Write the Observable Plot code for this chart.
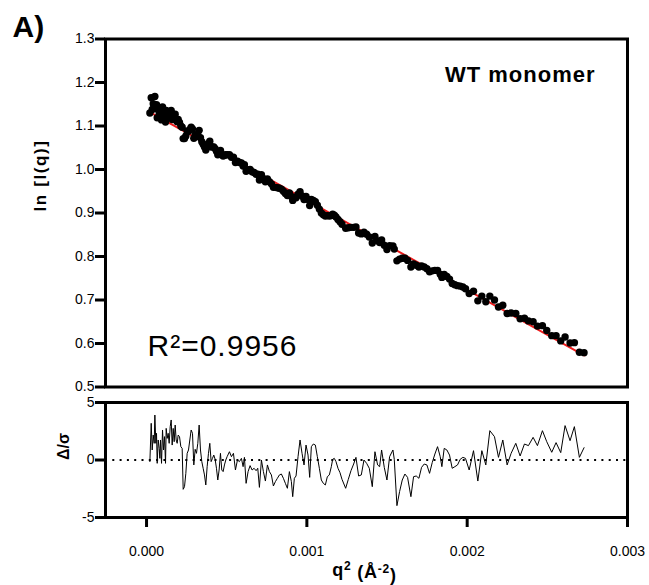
<!DOCTYPE html>
<html><head><meta charset="utf-8">
<script src="https://cdn.jsdelivr.net/npm/d3@7"></script>
<script src="https://cdn.jsdelivr.net/npm/@observablehq/plot@0.6"></script>
<style>
body{margin:0;background:#fff;}
#wrap{position:relative;width:649px;height:585px;background:#fff;}
#top,#bot{position:absolute;left:0;}
#top{top:0;} #bot{top:390px;}
</style></head><body>
<div id="wrap"><div id="top"></div><div id="bot"></div></div>
<script>
// q² values (Å⁻²)
const q2 = [
0.208e-4,0.291e-4,0.353e-4,0.416e-4,0.478e-4,0.519e-4,0.581e-4,0.623e-4,0.665e-4,0.727e-4,
0.789e-4,0.831e-4,0.872e-4,0.935e-4,0.997e-4,1.059e-4,1.121e-4,1.184e-4,1.225e-4,1.288e-4,
1.350e-4,1.412e-4,1.475e-4,1.537e-4,1.599e-4,1.662e-4,1.724e-4,1.786e-4,1.849e-4,1.911e-4,
1.973e-4,2.056e-4,2.139e-4,2.222e-4,2.285e-4,2.368e-4,2.451e-4,2.534e-4,2.617e-4,2.700e-4,
2.783e-4,2.866e-4,2.949e-4,3.032e-4,3.115e-4,3.198e-4,3.281e-4,3.364e-4,3.447e-4,3.531e-4,
3.614e-4,3.697e-4,3.780e-4,3.863e-4,3.946e-4,4.029e-4,4.112e-4,4.195e-4,4.278e-4,4.361e-4,
4.444e-4,4.527e-4,4.611e-4,4.694e-4,4.777e-4,4.860e-4,4.943e-4,5.026e-4,5.171e-4,5.296e-4,
5.421e-4,5.545e-4,5.670e-4,5.794e-4,5.919e-4,6.023e-4,6.106e-4,6.210e-4,6.334e-4,6.459e-4,
6.584e-4,6.708e-4,6.833e-4,6.937e-4,7.040e-4,7.165e-4,7.290e-4,7.414e-4,7.539e-4,7.664e-4,
7.788e-4,7.913e-4,8.037e-4,8.162e-4,8.287e-4,8.411e-4,8.536e-4,8.660e-4,8.785e-4,8.910e-4,
9.034e-4,9.117e-4,9.221e-4,9.325e-4,9.450e-4,9.574e-4,9.699e-4,9.824e-4,9.948e-4,10.073e-4,
10.176e-4,10.280e-4,10.405e-4,10.530e-4,10.654e-4,10.779e-4,10.903e-4,11.028e-4,11.153e-4,11.277e-4,
11.402e-4,11.526e-4,11.609e-4,11.713e-4,11.817e-4,11.942e-4,12.067e-4,12.191e-4,12.420e-4,12.586e-4,
12.752e-4,12.918e-4,13.063e-4,13.229e-4,13.396e-4,13.562e-4,13.728e-4,13.894e-4,14.081e-4,14.247e-4,
14.413e-4,14.538e-4,14.662e-4,14.829e-4,14.995e-4,15.161e-4,15.369e-4,15.452e-4,15.618e-4,15.784e-4,
15.950e-4,16.116e-4,16.282e-4,16.490e-4,16.656e-4,16.822e-4,16.989e-4,17.155e-4,17.321e-4,17.487e-4,
17.653e-4,17.819e-4,17.986e-4,18.152e-4,18.318e-4,18.422e-4,18.567e-4,18.733e-4,18.899e-4,19.065e-4,
19.232e-4,19.398e-4,19.564e-4,19.730e-4,19.896e-4,20.125e-4,20.395e-4,20.665e-4,20.914e-4,21.163e-4,
21.413e-4,21.703e-4,21.952e-4,22.222e-4,22.492e-4,22.741e-4,23.032e-4,23.302e-4,23.572e-4,23.821e-4,
24.112e-4,24.382e-4,24.694e-4,24.964e-4,25.275e-4,25.545e-4,25.836e-4,26.106e-4,26.417e-4,26.687e-4,
26.999e-4,27.290e-4
];
// ln I(q)
const lnI = [
1.130,1.165,1.138,1.151,1.142,1.168,1.140,1.149,1.119,1.140,
1.131,1.120,1.137,1.114,1.144,1.122,1.131,1.109,1.136,1.126,
1.129,1.120,1.132,1.136,1.115,1.126,1.115,1.127,1.114,1.110,
1.115,1.108,1.100,1.097,1.071,1.071,1.077,1.088,1.088,1.092,
1.097,1.093,1.072,1.080,1.076,1.080,1.090,1.073,1.064,1.058,
1.052,1.045,1.054,1.060,1.065,1.052,1.052,1.052,1.048,1.042,
1.034,1.037,1.044,1.034,1.031,1.033,1.034,1.034,1.034,1.028,
1.028,1.016,1.019,1.016,1.015,1.008,1.011,0.996,0.999,1.000,
0.995,0.993,0.989,0.989,0.976,0.988,0.979,0.972,0.978,0.972,
0.967,0.959,0.959,0.958,0.957,0.955,0.950,0.945,0.940,0.946,
0.938,0.929,0.936,0.935,0.943,0.949,0.939,0.931,0.938,0.931,
0.917,0.931,0.929,0.926,0.918,0.909,0.900,0.896,0.893,0.894,
0.893,0.894,0.897,0.895,0.891,0.885,0.880,0.874,0.865,0.866,
0.867,0.867,0.868,0.854,0.852,0.856,0.851,0.845,0.831,0.846,
0.836,0.832,0.838,0.826,0.816,0.825,0.824,0.817,0.790,0.794,
0.796,0.796,0.791,0.776,0.783,0.780,0.776,0.778,0.776,0.772,
0.765,0.767,0.768,0.768,0.759,0.752,0.759,0.754,0.748,0.738,
0.735,0.733,0.732,0.730,0.726,0.715,0.720,0.698,0.709,0.696,
0.709,0.700,0.684,0.688,0.669,0.670,0.669,0.657,0.658,0.652,
0.650,0.640,0.641,0.630,0.618,0.618,0.606,0.615,0.601,0.602,
0.580,0.579
];
// residuals Δ/σ
const resid = [
-0.14,3.19,0.87,2.17,1.45,3.91,1.45,2.32,-0.29,1.74,
1.01,0.14,1.74,-0.29,2.61,0.87,2.03,-0.29,2.75,1.88,
2.32,1.45,2.90,3.48,1.30,2.75,1.59,3.04,1.74,1.45,
2.17,2.03,1.16,1.01,-2.55,-2.32,-1.16,0.58,0.87,1.74,
2.61,2.32,-0.43,0.93,0.58,1.45,3.04,0.87,-0.14,-0.72,
-1.30,-2.17,-0.58,0.58,1.45,-0.14,0.14,0.43,0.06,-0.72,
-1.74,-0.87,0.58,-0.87,-1.01,-0.43,0,0.29,0.72,0.29,
0.58,-0.87,0,-0.14,0.14,-0.58,0.23,-2.03,-1.01,-0.49,
-0.87,-0.72,-0.93,-0.72,-2.38,0,-1.01,-1.83,-0.43,-1.01,
-1.30,-2.26,-1.88,-1.59,-1.30,-1.22,-1.59,-2.03,-2.46,-1.01,
-1.88,-3.19,-1.59,-1.39,0.29,1.74,0.58,-0.43,1.30,0.43,
-1.51,1.16,1.39,1.30,0.29,-0.72,-1.74,-2.03,-2.17,-1.45,
-1.30,-0.58,0.06,0.14,-0.14,-0.72,-1.10,-1.68,-2.46,-1.68,
-0.93,-0.35,0.23,-1.39,-1.30,0,-0.29,-0.72,-2.32,0.72,
-0.43,-0.58,0.87,-0.64,-1.74,0.29,0.87,0.06,-3.97,-2.75,
-1.74,-1.22,-1.51,-3.19,-1.45,-1.39,-1.59,-0.64,-0.35,-0.43,
-1.16,-0.23,0.52,1.16,0.29,-0.58,1.01,0.87,0.43,-0.72,
-0.58,-0.43,0.06,0.23,0.14,-0.87,0.81,-1.83,0.81,-0.43,
2.55,2.03,0.23,1.74,-0.43,0.58,1.45,0.35,1.39,1.25,
1.97,1.25,2.55,1.59,0.67,1.51,0.64,2.99,1.68,2.90,
0.23,1.07
];
// linear (Guinier) fit endpoints
const fitQ2 = [0.208e-4, 27.290e-4];
const fitLn = [1.1317, 0.5725];

const lnTicks = [0.5, 0.6, 0.7, 0.8, 0.9, 1.0, 1.1, 1.2, 1.3];
const resTicks = [-5, 0, 5];
const qTicks = [0, 0.001, 0.002, 0.003];
const xDomain = [-0.000256, 0.003];
const panelTitle = "WT monomer";
const r2Label = "R²=0.9956";
const panelTag = "A)";
const yLabelTop = "ln [I(q)]";
const yLabelBot = "Δ/σ";
const xLabel = "q2 (Å-2)";

const font = '"Liberation Sans", Arial, Helvetica, sans-serif';
const n = Math.min(q2.length, lnI.length, resid.length);
const rows = d3.range(n).map(i => ({q: q2[i], ln: lnI[i], r: resid[i]}));
const fitRows = fitQ2.map((q, i) => ({q, ln: fitLn[i]}));
const baseStyle = {fontFamily: font, fontSize: "14px", overflow: "visible", background: "transparent", color: "#000"};

const topPlot = Plot.plot({
  width: 649, height: 390,
  marginLeft: 105, marginRight: 22, marginTop: 38.5, marginBottom: 3.5,
  style: baseStyle,
  x: {domain: xDomain, axis: null},
  y: {domain: [0.5, 1.3], axis: null},
  marks: [
    Plot.line(fitRows, {x: "q", y: "ln", stroke: "#ee1c1c", strokeWidth: 2}),
    Plot.dot(rows, {x: "q", y: "ln", r: 3.7, fill: "#000", stroke: "none"}),
    Plot.frame({stroke: "#000", strokeWidth: 3}),
    Plot.axisY({ticks: lnTicks, tickSize: 10, tickPadding: 1, strokeWidth: 3, tickFormat: d3.format(".1f"), fontSize: 14, label: null}),
    Plot.text([panelTitle], {frameAnchor: "top-right", dx: -32, dy: 43, textAnchor: "end", lineAnchor: "bottom", fontSize: 22, fontWeight: "bold"}),
    Plot.text([r2Label], {frameAnchor: "bottom-left", dx: 42, dy: -31, textAnchor: "start", lineAnchor: "bottom", fontSize: 30}),
    Plot.text([panelTag], {frameAnchor: "top-left", dx: -93, dy: -2, textAnchor: "start", lineAnchor: "bottom", fontSize: 30, fontWeight: "bold"}),
    Plot.text([yLabelTop], {frameAnchor: "left", dx: -64.5, dy: -1.5, rotate: -90, fontSize: 17, fontWeight: "bold"})
  ]
});
document.getElementById("top").append(topPlot);

const botPlot = Plot.plot({
  width: 649, height: 195,
  marginLeft: 105, marginRight: 22, marginTop: 12, marginBottom: 68,
  style: baseStyle,
  x: {domain: xDomain, axis: null},
  y: {domain: [-5, 5], axis: null},
  marks: [
    Plot.ruleY([0], {stroke: "#000", strokeWidth: 2, strokeDasharray: "2,5.3"}),
    Plot.line(rows, {x: "q", y: "r", stroke: "#000", strokeWidth: 1}),
    Plot.frame({stroke: "#000", strokeWidth: 3}),
    Plot.axisY({ticks: resTicks, tickSize: 10, tickPadding: 1, strokeWidth: 3, tickFormat: d => String(d), fontSize: 14, label: null}),
    Plot.axisX({ticks: qTicks, tickSize: 10, tickPadding: 19, strokeWidth: 3, tickFormat: d3.format(".3f"), fontSize: 14, label: null}),
    Plot.text([yLabelBot], {frameAnchor: "left", dx: -42, rotate: -90, fontSize: 16, fontWeight: "bold"}),
    Plot.text([xLabel], {frameAnchor: "bottom", dx: -2, dy: 58, lineAnchor: "bottom", fontSize: 18, fontWeight: "bold"})
  ]
});
document.getElementById("bot").append(botPlot);

// letter spacing to match the wide lettering of the original
const spacing = {[panelTitle]: "1px", [r2Label]: "1px", [yLabelTop]: "1.6px", [xLabel]: "0.8px"};
[topPlot, botPlot].forEach(svg => {
  d3.select(svg).selectAll("text").each(function() {
    const t = d3.select(this);
    const s = spacing[t.text()];
    if (s) t.style("letter-spacing", s);
  });
});

// superscripts in the x-axis title
d3.select(botPlot).selectAll("text").each(function() {
  const t = d3.select(this);
  if (t.text() === xLabel) {
    t.text(null);
    t.append("tspan").text("q");
    t.append("tspan").attr("dy", "-0.45em").attr("font-size", "12px").text("2");
    t.append("tspan").attr("dy", "0.45em").text(" (Å");
    t.append("tspan").attr("dy", "-0.45em").attr("font-size", "12px").text("-2");
    t.append("tspan").attr("dy", "0.45em").text(")");
  }
});
</script>
</body></html>
